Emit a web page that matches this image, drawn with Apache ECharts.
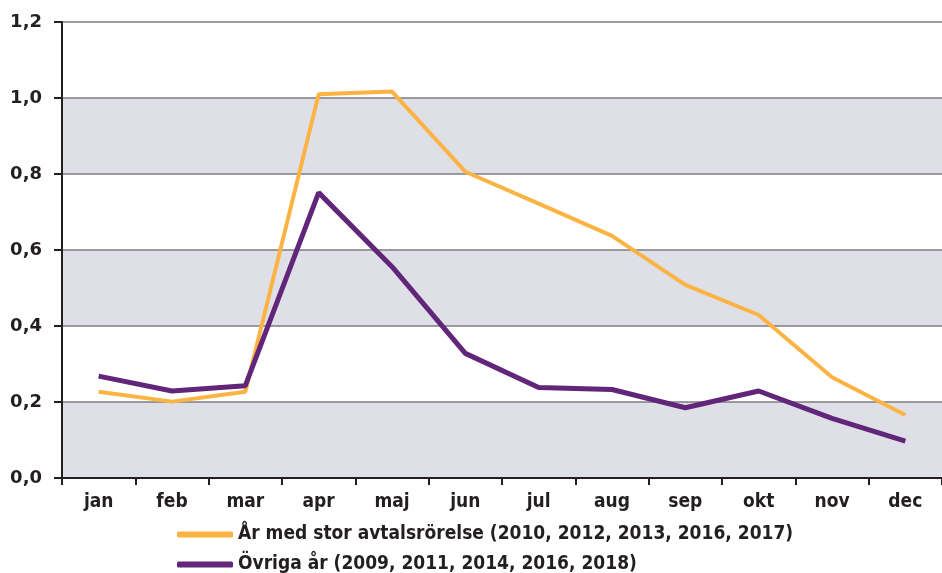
<!DOCTYPE html>
<html>
<head>
<meta charset="utf-8">
<script src="https://cdn.jsdelivr.net/npm/echarts@6/dist/echarts.min.js"></script>
<style>html,body{margin:0;padding:0;background:#fff}#c{width:942px;height:573px}</style>
</head>
<body>
<div id="c"></div>
<script>
const months = ['jan','feb','mar','apr','maj','jun','jul','aug','sep','okt','nov','dec'];
const seriesNames = ['År med stor avtalsrörelse (2010, 2012, 2013, 2016, 2017)', 'Övriga år (2009, 2011, 2014, 2016, 2018)'];
const storAvtal = [0.227, 0.201, 0.227, 1.010, 1.017, 0.806, 0.722, 0.637, 0.508, 0.429, 0.265, 0.166];
const ovriga = [0.268, 0.229, 0.243, 0.751, 0.556, 0.328, 0.238, 0.233, 0.185, 0.229, 0.157, 0.097];
const yTicks = [0, 0.2, 0.4, 0.6, 0.8, 1.0, 1.2];

const txt = '#231f20';
const condFont = '"DejaVu Sans Condensed", "DejaVu Sans", sans-serif';
const legendText = {color: txt, fontFamily: condFont, fontWeight: 'bold', fontSize: 19};
const chart = echarts.init(document.getElementById('c'), null, {renderer: 'canvas'});
chart.setOption({
  animation: false,
  grid: {left: 62, top: 22, width: 888, height: 456, containLabel: false},
  xAxis: {
    type: 'category', data: months, boundaryGap: true,
    axisLine: {lineStyle: {color: txt, width: 2}},
    axisTick: {show: true, length: 7, lineStyle: {color: txt, width: 2}},
    axisLabel: {color: txt, fontFamily: condFont, fontWeight: 'bold', fontSize: 19, margin: 15}
  },
  yAxis: {
    type: 'value', min: yTicks[0], max: yTicks[yTicks.length-1], interval: 0.2,
    axisLine: {show: true, lineStyle: {color: txt, width: 2}},
    axisTick: {show: true, length: 8, lineStyle: {color: txt, width: 2}},
    axisLabel: {color: txt, fontFamily: '"DejaVu Sans", sans-serif', fontWeight: 'bold', fontSize: 18, margin: 20,
      formatter: v => v.toFixed(1).replace('.', ',')},
    splitLine: {show: true, lineStyle: {color: '#7c7c80', width: 1.5}},
    splitArea: {show: true, areaStyle: {color: ['#dfdfe8', '#ffffff']}}
  },
  legend: [
    {left: 172, top: 520, itemGap: 0, itemWidth: 56, itemHeight: 6, icon: 'roundRect',
      textStyle: legendText, data: [seriesNames[0]]},
    {left: 172, top: 550, itemGap: 0, itemWidth: 56, itemHeight: 6, icon: 'roundRect',
      textStyle: legendText, data: [seriesNames[1]]}
  ],
  series: [
    {name: seriesNames[0], type: 'line', data: storAvtal, symbol: 'none', z: 3,
      lineStyle: {color: '#fbb444', width: 4}, itemStyle: {color: '#fbb444'}},
    {name: seriesNames[1], type: 'line', data: ovriga, symbol: 'none', z: 4,
      lineStyle: {color: '#61257a', width: 5}, itemStyle: {color: '#61257a'}}
  ]
});
</script>
</body>
</html>
